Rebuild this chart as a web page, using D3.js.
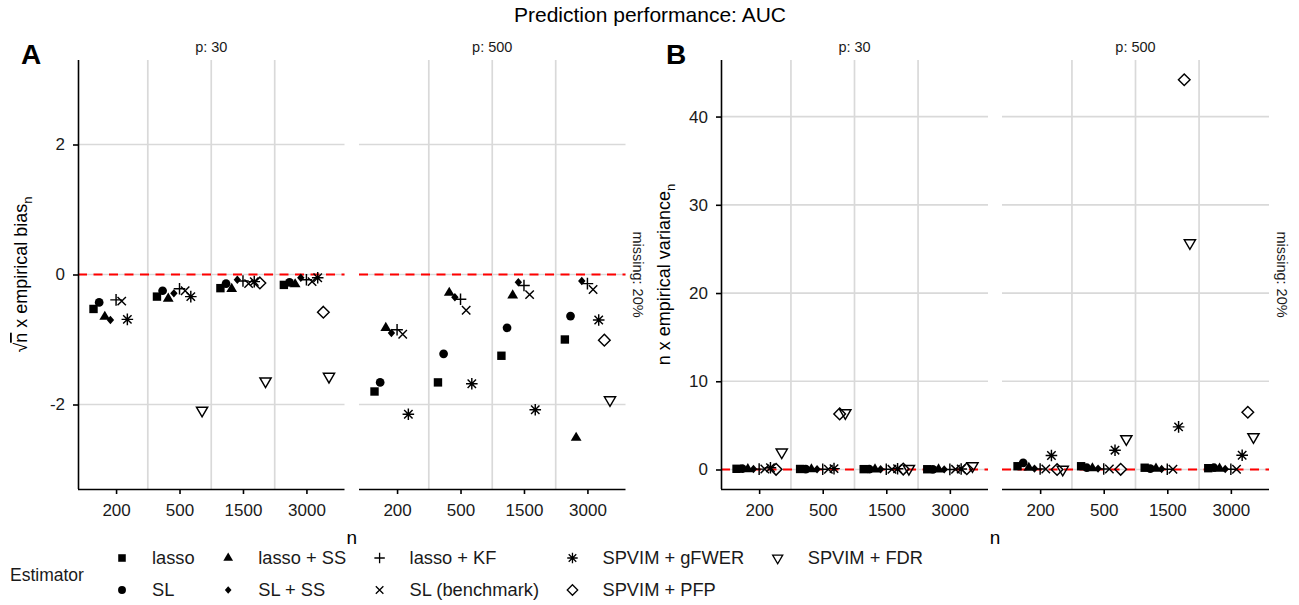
<!DOCTYPE html>
<html>
<head>
<meta charset="utf-8">
<script src="https://cdn.jsdelivr.net/npm/d3@7"></script>
<style>
  body { margin: 0; background: #fff; }
  svg { font-family: "Liberation Sans", Arial, sans-serif; }
  .grid line { stroke: #d9d9d9; stroke-width: 1.7; }
  .axis path, .axis line { stroke: #000; stroke-width: 1.6; }
  .axis text { font-size: 17px; fill: #1a1a1a; }
</style>
</head>
<body>
<div id="chart"></div>
<script>
// ---- data ----
const estimators = ["lasso", "SL", "lasso + SS", "SL + SS", "lasso + KF",
  "SL (benchmark)", "SPVIM + gFWER", "SPVIM + PFP", "SPVIM + FDR"];
const nLevels = ["200", "500", "1500", "3000"];
const facetLabels = ["p: 30", "p: 500"];

// sqrt(n) x empirical bias, rows = n, columns = estimators (null = not shown)
const biasP30 = [
  [-0.53, -0.43, -0.65, -0.70, -0.39, -0.41, -0.69, null, null],
  [-0.34, -0.25, -0.37, -0.29, -0.22, -0.25, -0.34, null, -2.09],
  [-0.21, -0.14, -0.22, -0.08, -0.10, -0.14, -0.11, -0.13, -1.64],
  [-0.16, -0.12, -0.15, -0.05, -0.08, -0.11, -0.05, -0.58, -1.57]
];
const biasP500 = [
  [-1.80, -1.66, -0.82, -0.90, -0.85, -0.92, -2.15, null, null],
  [-1.66, -1.22, -0.28, -0.35, -0.38, -0.55, -1.68, null, null],
  [-1.25, -0.82, -0.32, -0.12, -0.17, -0.31, -2.08, null, null],
  [-1.00, -0.64, -2.51, -0.10, -0.14, -0.23, -0.70, -1.01, -1.93]
];
// n x empirical variance
const varP30 = [
  [0.08, 0.10, 0.05, 0.06, 0.04, 0.05, 0.20, 0.02, 1.96],
  [0.06, 0.05, 0.04, 0.03, 0.02, 0.03, 0.10, 6.30, 6.42],
  [0.04, 0.03, 0.02, 0.02, 0.02, 0.02, 0.08, 0.05, 0.10],
  [0.03, 0.02, 0.02, 0.01, 0.01, 0.02, 0.06, 0.08, 0.40]
];
const varP500 = [
  [0.37, 0.75, 0.20, 0.10, 0.05, 0.05, 1.58, 0.00, 0.00],
  [0.37, 0.20, 0.15, 0.10, 0.05, 0.05, 2.19, 0.02, 3.47],
  [0.20, 0.10, 0.10, 0.05, 0.03, 0.03, 4.83, 44.17, 25.67],
  [0.15, 0.20, 0.10, 0.05, 0.03, 0.03, 1.62, 6.49, 3.70]
];
const biasTicks = [-2, 0, 2];
const varTicks = [0, 10, 20, 30, 40];

// shape per estimator (ggplot pch 15,16,17,18,3,4,8,5,6)
const shapeNames = ["square", "circle", "triangle", "diamondSmall", "plus",
  "times", "asterisk", "diamondOpen", "triangleDown"];

const width = 1299, height = 605;
const svg = d3.select("#chart").append("svg")
  .attr("width", width).attr("height", height);

function drawShape(g, name) {
  const filled = { fill: "#000", stroke: "none" };
  const open = { fill: "none", stroke: "#000", "stroke-width": 1.45 };
  let d, st;
  switch (name) {
    case "square": d = "M-4.2,-4.2H4.2V4.2H-4.2Z"; st = filled; break;
    case "circle": d = d3.symbol(d3.symbolCircle, 60)(); st = filled; break;
    case "triangle": d = "M0,-6L5.4,3.1L-5.4,3.1Z"; st = filled; break;
    case "diamondSmall": d = "M0,-4.2L3.7,0L0,4.2L-3.7,0Z"; st = filled; break;
    case "plus": d = "M-5.8,0H5.8M0,-5.8V5.8"; st = open; break;
    case "times": d = "M-4.2,-4.2L4.2,4.2M-4.2,4.2L4.2,-4.2"; st = open; break;
    case "asterisk": d = "M-5.8,0H5.8M0,-5.8V5.8M-4.2,-4.2L4.2,4.2M-4.2,4.2L4.2,-4.2"; st = open; break;
    case "diamondOpen": d = "M0,-5.8L5.8,0L0,5.8L-5.8,0Z"; st = open; break;
    case "triangleDown": d = "M-5.6,-3.2L5.6,-3.2L0,6.4Z"; st = open; break;
  }
  const p = g.append("path").attr("d", d);
  Object.entries(st).forEach(([k, v]) => p.attr(k, v));
}

function drawPanel(cfg) {
  const top = 60, bottom = 489;
  const y = d3.scaleLinear().domain(cfg.yDomain).range([bottom, top]);
  const g = svg.append("g");

  cfg.facets.forEach((f, fi) => {
    const x = d3.scalePoint().domain(nLevels).range([f.left, f.right]).padding(0.6);
    const step = x.step();
    const dodge = (j) => (j - (estimators.length - 1) / 2) * step * 0.8 / estimators.length;

    // grid
    const grid = g.append("g").attr("class", "grid");
    grid.selectAll(".h").data(cfg.ticks).join("line")
      .attr("x1", f.left).attr("x2", f.right)
      .attr("y1", (d) => y(d)).attr("y2", (d) => y(d));
    grid.selectAll(".v").data(nLevels.slice(0, -1)).join("line")
      .attr("x1", (d) => x(d) + step / 2).attr("x2", (d) => x(d) + step / 2)
      .attr("y1", top).attr("y2", bottom);

    // reference line at 0
    g.append("line")
      .attr("x1", f.left).attr("x2", f.right)
      .attr("y1", y(0)).attr("y2", y(0))
      .attr("stroke", "#ff0000").attr("stroke-width", 2)
      .attr("stroke-dasharray", "9,6.5");

    // points
    f.data.forEach((row, i) => {
      row.forEach((v, j) => {
        if (v === null) return;
        const pg = g.append("g")
          .attr("transform", `translate(${x(nLevels[i]) + dodge(j)},${y(v)})`);
        drawShape(pg, shapeNames[j]);
      });
    });

    // x axis
    g.append("g").attr("class", "axis")
      .attr("transform", `translate(0,${bottom})`)
      .call(d3.axisBottom(x).tickSizeOuter(0).tickSize(5).tickPadding(10))
      .call((a) => a.select(".domain").attr("d", `M${f.left},0.5H${f.right}`));

    // strip label
    g.append("text")
      .attr("x", (f.left + f.right) / 2).attr("y", 52)
      .attr("text-anchor", "middle").attr("font-size", 14.5).attr("fill", "#1a1a1a")
      .text(facetLabels[fi]);

    // y axis on first facet
    if (fi === 0) {
      g.append("g").attr("class", "axis")
        .attr("transform", `translate(${f.left},0)`)
        .call(d3.axisLeft(y).tickValues(cfg.ticks).tickFormat((d) => String(d))
          .tickSizeOuter(0).tickSize(5).tickPadding(8))
        .call((a) => a.select(".domain").attr("d", `M0.5,${top}V${bottom}`));
    }
  });

  const last = cfg.facets[cfg.facets.length - 1];
  const first = cfg.facets[0];
  // missing label
  g.append("text")
    .attr("transform", `translate(${last.right + 7.5},${(top + bottom) / 2}) rotate(90)`)
    .attr("text-anchor", "middle").attr("font-size", 14.5).attr("fill", "#1a1a1a")
    .text("missing: 20%");

  // x title
  g.append("text")
    .attr("x", (first.left + last.right) / 2).attr("y", 544)
    .attr("text-anchor", "middle").attr("font-size", 19)
    .text("n");

  // y title
  const yt = g.append("text")
    .attr("transform", `translate(${cfg.yTitleX},${(top + bottom) / 2}) rotate(-90)`)
    .attr("text-anchor", "middle").attr("font-size", 18);
  cfg.yTitle(yt);

  // panel tag
  g.append("text")
    .attr("x", cfg.tagX).attr("y", 64)
    .attr("font-size", 28).attr("font-weight", "bold")
    .text(cfg.tag);
}

drawPanel({
  tag: "A", tagX: 21, yTitleX: 27,
  yDomain: [-3.3, 3.3], ticks: biasTicks,
  facets: [
    { left: 78, right: 344.5, data: biasP30 },
    { left: 359, right: 625.5, data: biasP500 }
  ],
  yTitle: (t) => {
    t.append("tspan").text("√");
    t.append("tspan").style("text-decoration", "overline").text("n");
    t.append("tspan").text(" x empirical bias");
    t.append("tspan").attr("dy", 5).attr("font-size", 13).text("n");
  }
});

drawPanel({
  tag: "B", tagX: 666, yTitleX: 670,
  yDomain: [-2.21, 46.41], ticks: varTicks,
  facets: [
    { left: 721, right: 988, data: varP30 },
    { left: 1002, right: 1269, data: varP500 }
  ],
  yTitle: (t) => {
    t.append("tspan").text("n x empirical variance");
    t.append("tspan").attr("dy", 5).attr("font-size", 13).text("n");
  }
});

// title
svg.append("text")
  .attr("x", 650).attr("y", 22)
  .attr("text-anchor", "middle").attr("font-size", 21)
  .text("Prediction performance: AUC");

// legend (2 rows, column-major like ggplot)
const legend = svg.append("g");
legend.append("text")
  .attr("x", 10).attr("y", 575).attr("dy", "0.35em")
  .attr("font-size", 17.5).attr("fill", "#1a1a1a")
  .text("Estimator");
const rowsY = [558, 590];
let colX = 122;
for (let c = 0; c * 2 < estimators.length; c++) {
  let maxW = 0;
  for (let r = 0; r < 2; r++) {
    const j = c * 2 + r;
    if (j >= estimators.length) continue;
    const kg = legend.append("g").attr("transform", `translate(${colX},${rowsY[r]})`);
    const sg = kg.append("g").attr("transform", "scale(0.9)");
    drawShape(sg, shapeNames[j]);
    const t = kg.append("text")
      .attr("x", 30).attr("dy", "0.35em")
      .attr("font-size", 18.3).attr("fill", "#1a1a1a")
      .text(estimators[j]);
    maxW = Math.max(maxW, t.node().getComputedTextLength());
  }
  colX += 30 + maxW + 33.5;
}
</script>
</body>
</html>
